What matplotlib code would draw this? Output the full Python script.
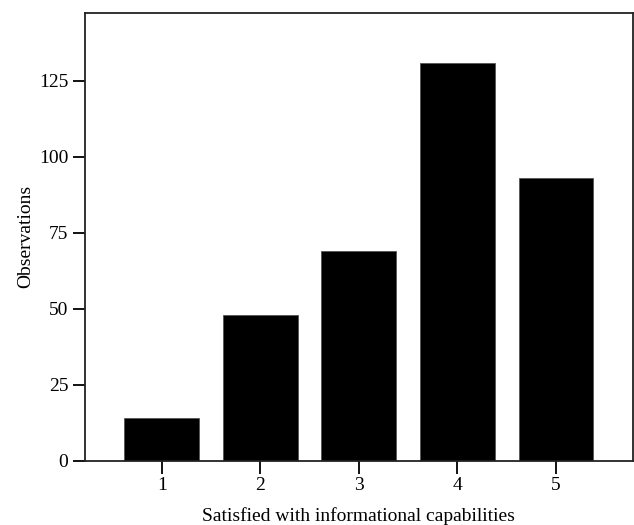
import matplotlib
matplotlib.use("Agg")
import matplotlib.pyplot as plt

categories = [1, 2, 3, 4, 5]
observations = [14, 48, 69, 131, 93]
yticks = [0, 25, 50, 75, 100, 125]

plt.rcParams['font.family'] = ['Liberation Serif', 'DejaVu Serif']

fig = plt.figure(figsize=(6.34, 5.25), dpi=100)
ax = fig.add_axes([0.134, 0.1225, 0.864, 0.8525])
ax.bar(categories, observations, width=0.76, color='black', edgecolor='#555555', linewidth=0.6)
ax.set_xlim(0.222, 5.778)
ax.set_ylim(0, 147.3)
ax.set_xticks(categories)
ax.set_yticks(yticks)
ax.tick_params(direction='out', length=9, width=1.3, labelsize=14, pad=3)
for s in ax.spines.values():
    s.set_linewidth(1.3)
    s.set_color('#222222')
ax.set_xlabel('Satisfied with informational capabilities', fontsize=14, labelpad=9)
ax.set_ylabel('Observations', fontsize=14, labelpad=3)
fig.savefig('out.png', dpi=100)
